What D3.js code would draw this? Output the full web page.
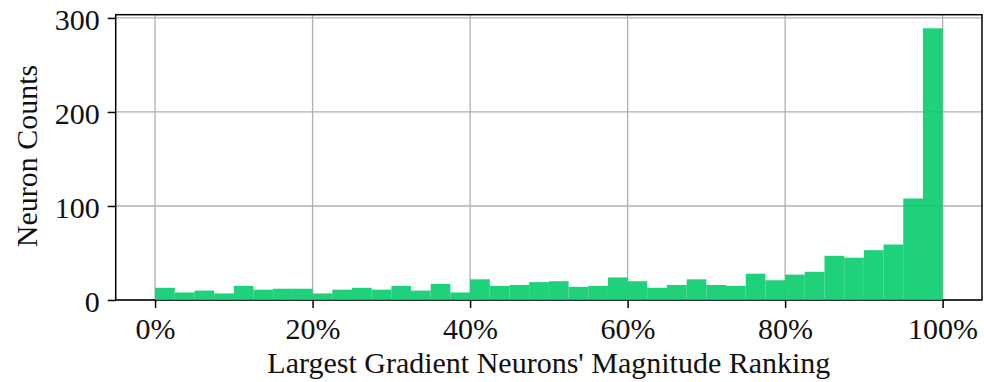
<!DOCTYPE html>
<html>
<head>
<meta charset="utf-8">
<script src="https://cdn.jsdelivr.net/npm/d3@7"></script>
<style>
  html, body { margin: 0; padding: 0; background: #fff; }
  svg { display: block; font-family: "Liberation Serif", "Times New Roman", serif; }
</style>
</head>
<body>
<svg id="chart" width="984" height="382"></svg>
<script>
// Histogram bins: lower edge of each 2.5% ranking bin, and neuron counts per bin
const binStarts = d3.range(0, 100, 2.5);
const counts = [
  13, 8, 10, 7, 15, 11, 12, 12, 7, 11,
  13, 11, 15, 10, 17, 8, 22, 15, 16, 19,
  20, 14, 15, 24, 20, 13, 16, 22, 16, 15,
  28, 21, 27, 30, 47, 45, 53, 59, 108, 289
];
const binWidth = 2.5;
const xTicks = [0, 20, 40, 60, 80, 100];
const yTicks = [0, 100, 200, 300];
const xLabel = "Largest Gradient Neurons' Magnitude Ranking";
const yLabel = "Neuron Counts";

const svg = d3.select("#chart");
const margin = { left: 115.7, right: 982, top: 14.7, bottom: 300 };
const fontSize = 30;

const x = d3.scaleLinear().domain([-5, 105]).range([margin.left, margin.right]);
const y = d3.scaleLinear().domain([0, 289 * 1.05]).range([margin.bottom, margin.top]);

// grid
const grid = svg.append("g").attr("stroke", "#b0b0b0").attr("stroke-width", 1.3);
grid.selectAll("line.gx").data(xTicks).join("line")
  .attr("x1", d => x(d)).attr("x2", d => x(d))
  .attr("y1", margin.top).attr("y2", margin.bottom);
grid.selectAll("line.gy").data(yTicks).join("line")
  .attr("x1", margin.left).attr("x2", margin.right)
  .attr("y1", d => y(d)).attr("y2", d => y(d));

// axes
const xAxis = d3.axisBottom(x).tickValues(xTicks).tickFormat(d => d + "%").tickSize(8);
const yAxis = d3.axisLeft(y).tickValues(yTicks).tickSize(8).tickPadding(8);

const gx = svg.append("g").attr("transform", `translate(0,${margin.bottom})`).call(xAxis);
const gy = svg.append("g").attr("transform", `translate(${margin.left},0)`).call(yAxis);
[gx, gy].forEach(g => {
  g.select(".domain").remove();
  g.selectAll(".tick line").attr("stroke", "#000").attr("stroke-width", 1.5);
  g.selectAll(".tick text").attr("fill", "#111").attr("font-size", fontSize)
    .attr("font-family", "Liberation Serif, serif");
});
gx.selectAll(".tick text").attr("y", 39).attr("dy", 0);
gy.selectAll(".tick text").attr("dy", "0.38em");

// frame
svg.append("rect")
  .attr("x", margin.left).attr("y", margin.top)
  .attr("width", margin.right - margin.left).attr("height", margin.bottom - margin.top)
  .attr("fill", "none").attr("stroke", "#000").attr("stroke-width", 1.5);

// bars
svg.append("g").selectAll("rect").data(binStarts).join("rect")
  .attr("x", (d) => x(d))
  .attr("width", (d) => x(d + binWidth) - x(d))
  .attr("y", (d, i) => y(counts[i]))
  .attr("height", (d, i) => y(0) - y(counts[i]))
  .attr("fill", "#05cc6c")
  .attr("fill-opacity", 0.9);

// axis titles
svg.append("text")
  .attr("x", x(50)).attr("y", 373)
  .attr("text-anchor", "middle")
  .attr("font-size", fontSize).attr("fill", "#111")
  .text(xLabel);

svg.append("text")
  .attr("transform", `translate(37,156) rotate(-90)`)
  .attr("text-anchor", "middle")
  .attr("font-size", fontSize).attr("fill", "#111")
  .text(yLabel);
</script>
</body>
</html>
